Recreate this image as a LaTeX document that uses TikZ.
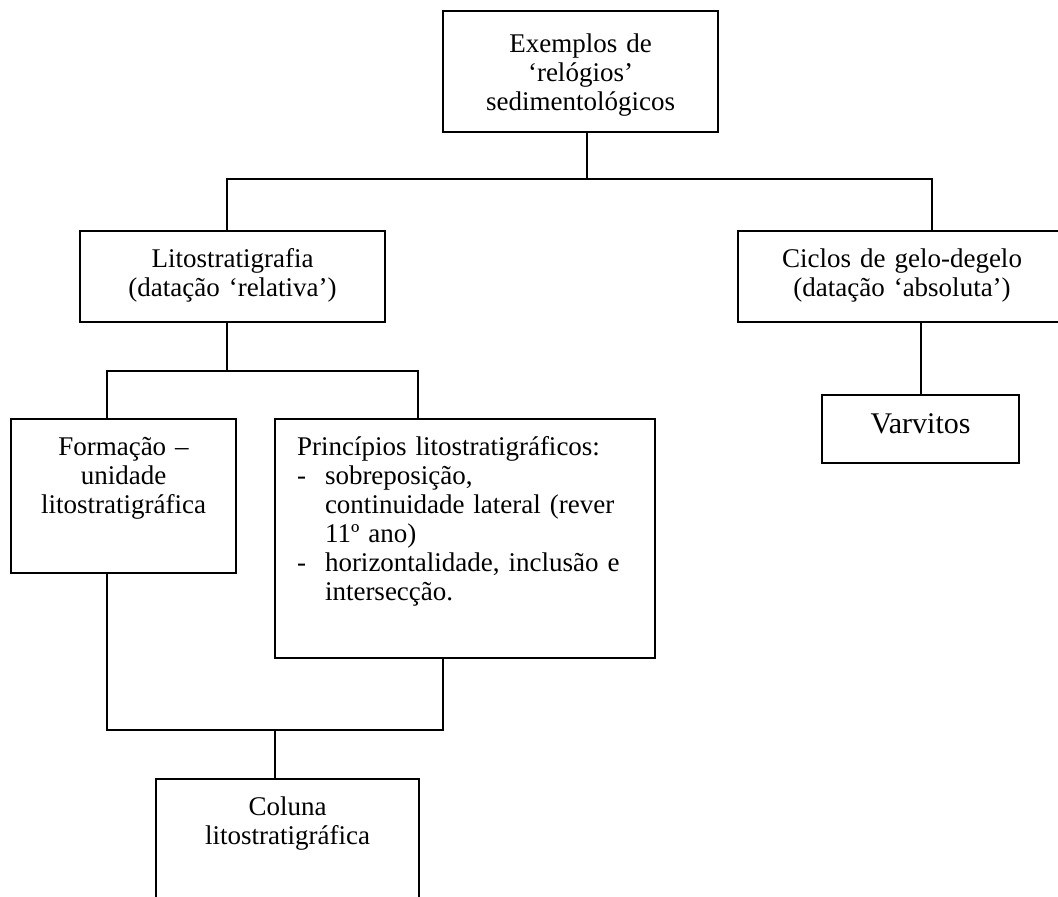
\documentclass[tikz,border=0pt]{standalone}
\usepackage{fontspec}
\setmainfont{Liberation Serif}

\tikzset{
    box/.style={draw, rectangle, line width=1pt, inner sep=0pt, outer sep=0pt,
        anchor=north, align=center, font=\fontsize{13.5}{14.5}\selectfont},
    link/.style={line width=1pt},
}

\begin{document}
\begin{tikzpicture}[x=0.5pt,y=-0.5pt]
        \clip (0,0) rectangle (1058,896);
        \node[box, text width=137.5pt, text height=20.5pt, text depth=40pt] (top) at (580.5,11)
            {Exemplos de\\‘relógios’\\sedimentológicos};
        \node[box, text width=152.5pt, text height=18pt, text depth=27.5pt] (lito) at (232.5,231)
            {Litostratigrafia\\(datação ‘relativa’)};
        \node[box, text width=164pt, text height=18pt, text depth=27.5pt] (ciclos) at (902,231)
            {Ciclos de gelo-degelo\\(datação ‘absoluta’)};
        \node[box, text width=98.5pt, text height=19pt, text depth=15pt,
            font=\fontsize{15}{17}\selectfont] (varv) at (920.5,395) {Varvitos};
        \node[box, text width=112.5pt, text height=18pt, text depth=59pt] (form) at (123.5,419)
            {Formação –\\unidade\\litostratigráfica};
        \node[box, align=left, inner xsep=11pt, text width=168pt, text height=18pt, text depth=101.5pt] (prin) at (465,419)
            {Princípios litostratigráficos:\\
            \makebox[14pt][l]{-}sobreposição,\\
            \hspace*{14pt}continuidade lateral (rever\\
            \hspace*{14pt}11º ano)\\
            \makebox[14pt][l]{-}horizontalidade, inclusão e\\
            \hspace*{14pt}intersecção.};
        \node[box, text width=131.5pt, text height=18pt, text depth=57.5pt] (col) at (287.5,779)
            {Coluna\\litostratigráfica};
        % junctions of the brackets
        \coordinate (jA) at (587,179);
        \coordinate (jB) at (227,371);
        \coordinate (jC) at (275,730);
        \draw[link] (top.south -| jA) -- (jA);
        \draw[link] (lito.north -| jB) |- (jA) -| ([xshift=15pt]ciclos.north);
        \draw[link] (lito.south -| jB) -- (jB);
        \draw[link] ([xshift=-8.25pt]form.north) |- (jB) -| ([xshift=-23.5pt]prin.north);
        \draw[link] ([xshift=-8.25pt]form.south) |- (jC) -| ([xshift=-11pt]prin.south);
        \draw[link] (jC) -- (col.north -| jC);
        \draw[link] (varv.north |- ciclos.south) -- (varv.north);
\end{tikzpicture}
\end{document}
